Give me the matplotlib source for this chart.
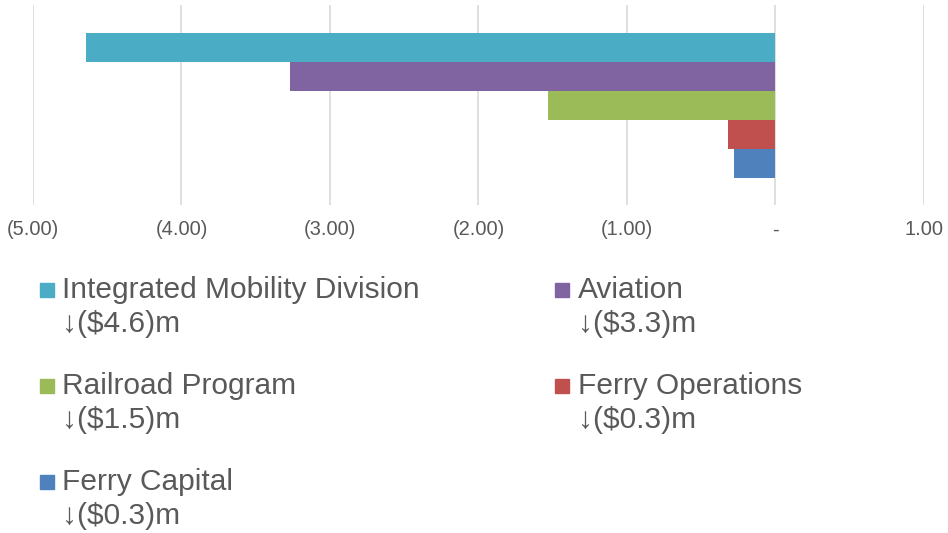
import matplotlib.pyplot as plt
from matplotlib.patches import Rectangle

# 各部门的变化（百万美元）
divisions = ['Integrated Mobility Division', 'Aviation', 'Railroad Program',
             'Ferry Operations', 'Ferry Capital']
changes = [-4.64, -3.27, -1.53, -0.32, -0.28]
colors = ['#4BACC6', '#8064A2', '#9BBB59', '#C0504D', '#4F81BD']
x_ticks = [-5, -4, -3, -2, -1, 0, 1]
x_labels = ['(5.00)', '(4.00)', '(3.00)', '(2.00)', '(1.00)', '-', '1.00']

text_color = '#595959'
plt.rcParams['font.family'] = ['Liberation Sans', 'DejaVu Sans']

fig = plt.figure(figsize=(9.48, 5.33), dpi=100)
W, H = 948, 533
ax = fig.add_axes([33 / W, 1 - 205 / H, (924 - 33) / W, 200 / H])

ax.barh(range(len(changes)), changes, height=1.0, color=colors, zorder=3)
ax.set_xlim(-5, 1)
ax.set_ylim(5.43, -1.47)
ax.set_xticks(x_ticks)
ax.set_xticklabels(x_labels, fontsize=14.5, color=text_color)
ax.set_yticks([])
ax.tick_params(axis='x', length=0, pad=11)
ax.grid(axis='x', color='#D9D9D9', linewidth=1.2, zorder=0)
for s in ax.spines.values():
    s.set_visible(False)

# 图例：两列，标记与第一行对齐
for i, (name, val, c) in enumerate(zip(divisions, changes, colors)):
    col, row = i % 2, i // 2
    mx = [40, 555][col]
    tx = [62, 578][col]
    y1 = 290 + row * 96
    fig.patches.append(Rectangle((mx / W, 1 - (y1 + 7) / H), 14 / W, 14 / H,
                                 transform=fig.transFigure, color=c))
    fig.text(tx / W, 1 - y1 / H, name, fontsize=21.5, color=text_color,
             va='center', ha='left')
    fig.text(tx / W, 1 - (y1 + 34) / H, '↓(${:.1f})m'.format(abs(val)),
             fontsize=21.5, color=text_color, va='center', ha='left')

fig.savefig('out.png', dpi=100, facecolor='white')
